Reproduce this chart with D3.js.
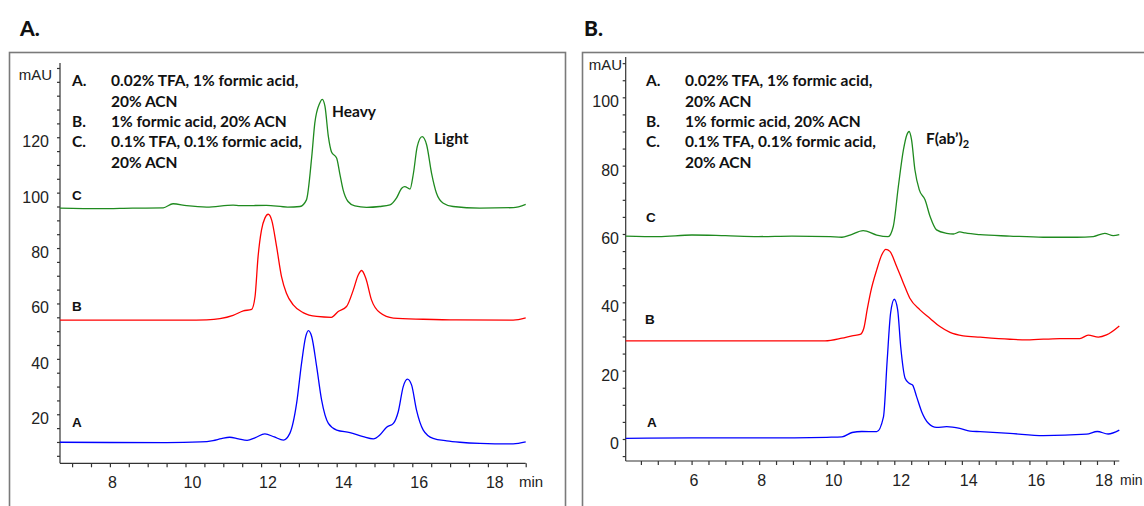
<!DOCTYPE html>
<html>
<head>
<meta charset="utf-8">
<script src="https://cdn.jsdelivr.net/npm/d3@7"></script>
<style>
  body { margin: 0; background: #fff; }
  svg { display: block; }
</style>
</head>
<body>
<script>
// panel A : heavy / light chains, [time (min), mAU]
var aTraceA = [[6.68,9.9],[8,9.8],[9.5,9.75],[10.4,10],[10.73,10.5],[10.95,11.2],[11.17,11.7],[11.4,11.1],[11.63,10.6],[11.85,11.6],[12.1,12.9],[12.35,11.8],[12.59,10.7],[12.76,13.1],[12.94,24],[13.07,38.4],[13.18,48],[13.25,50.2],[13.34,48],[13.47,37.2],[13.6,25.2],[13.78,16.7],[14.0,14.3],[14.35,13.4],[14.7,11.9],[14.97,11.1],[15.14,12.5],[15.32,15.3],[15.5,16.7],[15.63,21],[15.76,30],[15.87,32.7],[15.98,30.6],[16.11,21.6],[16.29,14.3],[16.55,11.3],[16.91,10.4],[17.26,9.9],[17.79,9.5],[18.67,9.3],[19.0,10]];
var aTraceB = [[6.68,54],[8,54],[9,54],[10,54],[10.56,54.1],[10.91,54.5],[11.26,55.7],[11.53,57.3],[11.75,57.9],[11.84,62.5],[11.92,76.9],[12.01,86.5],[12.1,90.8],[12.19,92.2],[12.28,90.1],[12.41,80.5],[12.54,69.7],[12.67,63.7],[12.85,59.5],[13.11,56.7],[13.47,55.3],[13.86,55],[14.04,57.1],[14.26,58.9],[14.44,64.9],[14.57,70.3],[14.66,71.9],[14.77,69.1],[14.92,61.3],[15.14,56.7],[15.5,54.7],[16.29,54.3],[17.17,54.05],[18.67,54],[19.0,54.8]];
var aTraceC = [[6.68,94.4],[7.74,94.2],[8.6,94.4],[9.41,94.5],[9.67,96],[10.03,95.3],[10.56,94.8],[11.26,95.5],[11.44,95.3],[12.14,95.4],[12.7,94.8],[13.03,95],[13.2,97.4],[13.34,113],[13.42,125],[13.55,132.3],[13.62,133.7],[13.69,131.1],[13.78,120.2],[13.86,114.8],[14.0,112.4],[14.08,107],[14.17,101],[14.3,96.8],[14.48,95.2],[14.79,94.7],[15.14,95],[15.41,95.6],[15.58,98],[15.72,101.6],[15.8,102.2],[15.94,101.3],[16.03,107],[16.13,116.6],[16.26,120.2],[16.38,117.2],[16.51,107],[16.64,99.8],[16.82,96.2],[17.08,95],[17.79,94.4],[18.67,94.6],[19.0,95.8]];

// panel B : F(ab')2
var bTraceA = [[4.05,0.2],[6,0.3],[8,0.3],[10,0.5],[10.45,0.6],[10.75,1.9],[11.04,2.2],[11.48,2.15],[11.68,6.5],[11.79,23.1],[11.89,36.8],[12.0,40.9],[12.1,37.8],[12.19,27],[12.32,17.8],[12.44,16.3],[12.54,15.8],[12.66,12.4],[12.81,8],[13.01,4.6],[13.25,3.4],[13.55,3.6],[13.94,3.1],[14.24,2.3],[14.54,2.15],[15.42,1.65],[16.41,0.98],[17.69,1.4],[18.01,2.2],[18.33,1.46],[18.66,2.6]];
var bTraceB = [[4.05,28.7],[6,28.7],[8,28.7],[9.95,28.7],[10.45,29.5],[10.75,30.2],[10.99,30.6],[11.1,32.5],[11.2,38],[11.3,43],[11.48,49.5],[11.63,53.9],[11.75,55.5],[11.87,54.9],[12.07,50.5],[12.27,45.6],[12.46,41.2],[12.76,37.8],[13.06,35.3],[13.35,32.9],[13.65,31.2],[14.04,30.2],[14.54,29.8],[15.42,29.2],[15.92,29],[16.9,29.4],[17.49,29.4],[17.74,30.4],[18.04,29.8],[18.28,30.45],[18.66,33.1]];
var bTraceC = [[4.05,59.4],[5.02,59.25],[6.01,59.7],[7,59.5],[7.98,59.25],[8.97,59.4],[10.1,59.2],[10.45,59.05],[10.69,59.7],[11.08,61],[11.48,59.7],[11.82,59.25],[11.97,62.2],[12.12,73.9],[12.27,84.6],[12.37,89],[12.44,90],[12.51,87.6],[12.61,78.8],[12.74,72.9],[12.91,70],[13.06,65.1],[13.25,61.2],[13.55,60.2],[13.75,60],[13.94,60.6],[14.1,60.3],[14.54,59.8],[15.42,59.4],[16.41,59.05],[17.4,59.05],[17.89,59.25],[18.23,60.2],[18.48,59.5],[18.66,59.8]];

var aXTicks = [8,10,12,14,16,18];
var aYTicks = [20,40,60,80,100,120];
var bXTicks = [6,8,10,12,14,16,18];
var bYTicks = [0,20,40,60,80,100];

var legendKeys = ['A.', '', 'B.', 'C.', ''];
var legendText = ['0.02% TFA, 1% formic acid,', '20% ACN', '1% formic acid, 20% ACN', '0.1% TFA, 0.1% formic acid,', '20% ACN'];

var colors = { A: '#0000ff', B: '#ff0000', C: '#1f8a1f' };

const svg = d3.select('body').append('svg').attr('width', 1144).attr('height', 506);

function drawPanel(p) {
    const g = svg.append('g');

    // outer frame (runs off the bottom of the picture)
    g.append('rect')
        .attr('x', p.frame[0]).attr('y', 52.5)
        .attr('width', p.frame[1]).attr('height', 520)
        .attr('fill', 'none').attr('stroke', '#7a7a7a').attr('stroke-width', 1.6);

    g.append('text').attr('x', p.title[0]).attr('y', 36)
        .attr('font-family', 'Lato').attr('font-weight', 900).attr('font-size', 21)
        .attr('fill', '#111').text(p.titleText);

    const x = d3.scaleLinear().domain(p.xDomain).range(p.xRange);
    const y = d3.scaleLinear().domain(p.yDomain).range(p.yRange);

    const xAxis = d3.axisBottom(x).tickValues(d3.range(p.xMinor[0], p.xMinor[1] + 0.01, 0.5))
        .tickSize(4).tickFormat('');
    const yAxis = d3.axisLeft(y).tickValues(d3.range(p.yMinor[0], p.yMinor[1] + 0.01, 5))
        .tickSize(3).tickFormat('');

    const gx = g.append('g').attr('transform', `translate(0, ${p.yRange[0]})`).call(xAxis);
    const gy = g.append('g').attr('transform', `translate(${p.xRange[0]}, 0)`).call(yAxis);
    gx.select('.domain').attr('d', `M${p.xRange[0]},0H${p.xRange[1]}`);
    gy.select('.domain').attr('d', `M0,${p.yRange[0]}V${p.yRange[1]}`);
    g.selectAll('.domain, .tick line').attr('stroke', '#333').attr('stroke-width', 1.2);

    // tick labels sit just right of their tick (chromatography software style)
    g.selectAll('.xlab').data(p.xTicks).enter().append('text')
        .attr('x', d => x(d) - 2).attr('y', p.yRange[0] + 25)
        .attr('font-family', 'Liberation Sans').attr('font-size', 16).attr('fill', '#222')
        .text(d => d);
    g.append('text').attr('x', p.minX).attr('y', p.yRange[0] + 24)
        .attr('font-family', 'Liberation Sans').attr('font-size', p.minSize).attr('fill', '#222').text('min');

    g.selectAll('.ylab').data(p.yTicks).enter().append('text')
        .attr('x', p.yLabelX).attr('y', d => y(d) + 10)
        .attr('text-anchor', 'end')
        .attr('font-family', 'Liberation Sans').attr('font-size', 16).attr('fill', '#222')
        .text(d => d);
    g.append('text').attr('x', p.mauX).attr('y', p.mauY).attr('text-anchor', 'end')
        .attr('font-family', 'Liberation Sans').attr('font-size', 15).attr('fill', '#222').text('mAU');

    const line = d3.line().x(d => x(d[0])).y(d => y(d[1])).curve(d3.curveMonotoneX);
    p.traces.forEach(function (t) {
        g.append('path').attr('d', line(t.data))
            .attr('fill', 'none').attr('stroke', colors[t.key]).attr('stroke-width', 1.3);
        g.append('text').attr('x', t.label[0]).attr('y', t.label[1])
            .attr('font-family', 'Liberation Sans').attr('font-weight', 700).attr('font-size', 13.5)
            .attr('fill', '#111').text(t.key);
    });

    // legend
    const leg = g.append('g').attr('font-family', 'Lato').attr('font-weight', 700)
        .attr('font-size', 15.5).attr('fill', '#111');
    legendText.forEach(function (s, i) {
        const yy = [86, 107, 127, 147, 168][i];
        leg.append('text').attr('x', p.legX).attr('y', yy).text(legendKeys[i]);
        leg.append('text').attr('x', p.legX + 39).attr('y', yy).text(s);
    });

    p.notes.forEach(function (n) {
        const t = g.append('text').attr('x', n.x).attr('y', n.y)
            .attr('font-family', 'Lato').attr('font-weight', 700).attr('font-size', 15.5)
            .attr('fill', '#111').text(n.text);
        if (n.sub) t.append('tspan').attr('dy', 4).attr('font-size', 11).text(n.sub);
    });
}

drawPanel({
    titleText: 'A.', title: [20], frame: [9.5, 556],
    xDomain: [6.68, 19.0], xRange: [60, 525.7],
    yDomain: [2.3, 146.8], yRange: [463.3, 63],
    xMinor: [7, 19], yMinor: [5, 145],
    xTicks: aXTicks, yTicks: aYTicks,
    yLabelX: 49, mauX: 52, mauY: 80, minX: 519, minSize: 15,
    legX: 72,
    traces: [
        { key: 'C', data: aTraceC, label: [72, 200] },
        { key: 'B', data: aTraceB, label: [72, 311] },
        { key: 'A', data: aTraceA, label: [72, 427] }
    ],
    notes: [{ x: 332, y: 117, text: 'Heavy' }, { x: 434, y: 144, text: 'Light' }]
});

drawPanel({
    titleText: 'B.', title: [584], frame: [582.5, 600],
    xDomain: [4.05, 18.66], xRange: [625.7, 1119.3],
    yDomain: [-6.44, 111.8], yRange: [461, 57],
    xMinor: [4.5, 18.5], yMinor: [-5, 110],
    xTicks: bXTicks, yTicks: bYTicks,
    yLabelX: 619, mauX: 622, mauY: 70, minX: 1120, minSize: 14,
    legX: 646,
    traces: [
        { key: 'C', data: bTraceC, label: [646, 222] },
        { key: 'B', data: bTraceB, label: [645, 324] },
        { key: 'A', data: bTraceA, label: [647, 427] }
    ],
    notes: [{ x: 926, y: 144, text: 'F(ab’)', sub: '2' }]
});
</script>
</body>
</html>
